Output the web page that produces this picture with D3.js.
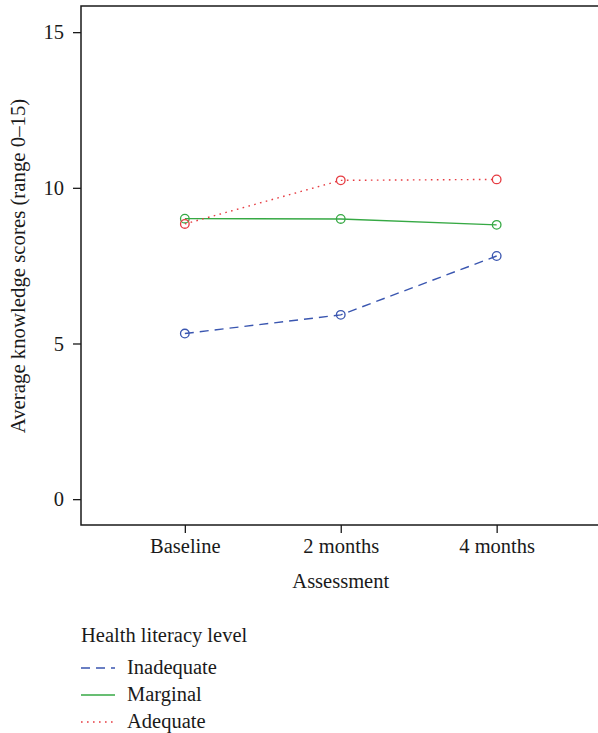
<!DOCTYPE html>
<html>
<head>
<meta charset="utf-8">
<script src="https://cdn.jsdelivr.net/npm/d3@7"></script>
<style>
  body { margin: 0; background: #fff; }
  text { font-family: "Liberation Serif", "DejaVu Serif", serif; fill: #1a1a1a; }
  .axis text { font-size: 20.5px; }
  .axis line, .axis path { stroke: #1a1a1a; }
</style>
</head>
<body>
<div id="chart"></div>
<script>
var assessments = ["Baseline", "2 months", "4 months"];
var levels = ["Inadequate", "Marginal", "Adequate"];
var inadequate = [5.32, 5.92, 7.81];
var marginal = [9.01, 9.0, 8.81];
var adequate = [8.84, 10.24, 10.27];
var yTicks = [0, 5, 10, 15];

var colors = {Inadequate: "#3a56b0", Marginal: "#36a944", Adequate: "#e63c42"};
var dashes = {Inadequate: "9,6", Marginal: null, Adequate: "1.6,4.4"};
var series = [
    {name: "Inadequate", values: inadequate},
    {name: "Marginal", values: marginal},
    {name: "Adequate", values: adequate}
];

var W = 598, H = 733;
var margin = {top: 6, right: 0, bottom: 208, left: 81},
    width = W - margin.left - margin.right,
    height = H - margin.top - margin.bottom;

var x = d3.scaleLinear()
    .domain([-0.666, 2.65])
    .range([0, width]);
var y = d3.scaleLinear()
    .domain([-0.83, 15.84])
    .range([height, 0]);

var svg = d3.select("#chart")
    .append("svg")
    .attr("width", W)
    .attr("height", H);

var g = svg.append("g")
    .attr("transform", `translate(${margin.left}, ${margin.top})`);

// frame: left, top, bottom
g.append("path")
    .attr("d", `M${width},0H0V${height}H${width}`)
    .attr("fill", "none")
    .attr("stroke", "#1a1a1a")
    .attr("stroke-width", 1.5);

var yAxis = d3.axisLeft(y).tickValues(yTicks).tickSize(8).tickPadding(9);
g.append("g")
    .attr("class", "axis")
    .call(yAxis)
    .call(function(a) { a.select(".domain").remove(); });

var xAxis = d3.axisBottom(x)
    .tickValues([0, 1, 2])
    .tickFormat(function(d) { return assessments[d]; })
    .tickSize(8).tickPadding(5);
g.append("g")
    .attr("class", "axis")
    .attr("transform", `translate(0, ${height})`)
    .call(xAxis)
    .call(function(a) { a.select(".domain").remove(); });

g.selectAll(".axis line").attr("stroke-width", 1.3);

var line = d3.line()
    .x(function(d, i) { return x(i); })
    .y(function(d) { return y(d); });

series.forEach(function(s) {
    g.append("path")
        .datum(s.values)
        .attr("fill", "none")
        .attr("stroke", colors[s.name])
        .attr("stroke-width", 1.4)
        .attr("stroke-dasharray", dashes[s.name])
        .attr("d", line);
    g.selectAll(null)
        .data(s.values)
        .enter().append("circle")
        .attr("cx", function(d, i) { return x(i); })
        .attr("cy", function(d) { return y(d); })
        .attr("r", 4.3)
        .attr("fill", "none")
        .attr("stroke", colors[s.name])
        .attr("stroke-width", 1.3);
});

// axis titles
svg.append("text")
    .attr("x", margin.left + x(1))
    .attr("y", 588)
    .attr("text-anchor", "middle")
    .style("font-size", "20.5px")
    .text("Assessment");

svg.append("text")
    .attr("transform", `translate(25, 266) rotate(-90)`)
    .attr("text-anchor", "middle")
    .style("font-size", "20.8px")
    .text("Average knowledge scores (range 0–15)");

// legend
var legend = svg.append("g").attr("transform", "translate(81, 0)");
legend.append("text")
    .attr("x", 0)
    .attr("y", 642)
    .style("font-size", "20.5px")
    .text("Health literacy level");

levels.forEach(function(name, i) {
    var ly = 668 + i * 27;
    legend.append("line")
        .attr("x1", 0).attr("x2", 34)
        .attr("y1", ly).attr("y2", ly)
        .attr("stroke", colors[name])
        .attr("stroke-width", 1.4)
        .attr("stroke-dasharray", dashes[name]);
    legend.append("text")
        .attr("x", 46)
        .attr("y", ly + 6)
        .style("font-size", "20.5px")
        .text(name);
});
</script>
</body>
</html>
